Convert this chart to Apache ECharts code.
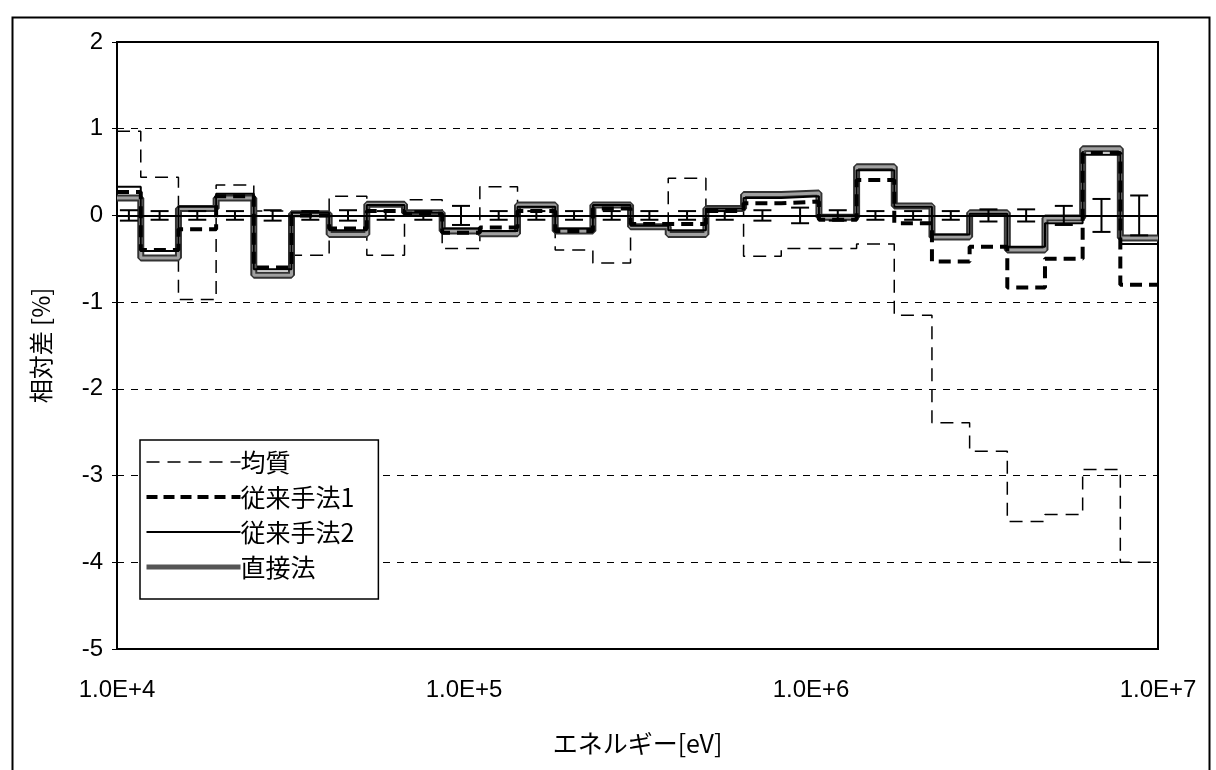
<!DOCTYPE html>
<html>
<head>
<meta charset="utf-8">
<script src="https://cdn.jsdelivr.net/npm/echarts@6/dist/echarts.min.js"></script>
<style>
html,body{margin:0;padding:0;background:#fff;}
#chart{width:1216px;height:770px;}
</style>
</head>
<body>
<div id="chart"></div>
<script>
// Energy group boundaries (eV), ascending; the first bin is clipped at the axis minimum
const edges = [1.0e4, 1.1709e4, 1.5034e4, 1.9305e4, 2.4788e4, 3.1828e4, 4.0868e4, 5.2475e4,
  6.7379e4, 8.6517e4, 1.1109e5, 1.4264e5, 1.8316e5, 2.3518e5, 3.0197e5, 3.8774e5, 4.9787e5,
  6.3928e5, 8.2085e5, 1.0540e6, 1.3534e6, 1.7377e6, 2.2313e6, 2.8650e6, 3.6788e6, 4.7237e6,
  6.0653e6, 7.7880e6, 1.0e7];

const seriesNames = ['均質', '従来手法1', '従来手法2', '直接法'];

const homogeneous = [0.97, 0.44, -0.97, 0.35, 0.05, -0.46, 0.22, -0.46, 0.18, -0.38, 0.33, 0.1, -0.4, -0.55,
  -0.13, 0.43, 0.07, -0.47, -0.38, -0.38, -0.33, -1.15, -2.39, -2.72, -3.53, -3.45, -2.93, -4.0];
const conventional1 = [0.27, -0.4, -0.16, 0.22, -0.6, 0.0, -0.15, 0.05, 0.02, -0.2, -0.14, 0.05, -0.18, 0.08,
  -0.1, -0.1, 0.05, 0.14, 0.16, -0.05, 0.41, -0.09, -0.53, -0.36, -0.83, -0.5, 0.72, -0.8];
const conventional2 = [0.33, -0.41, 0.1, 0.25, -0.62, 0.03, -0.17, 0.12, 0.03, -0.15, -0.18, 0.1, -0.15, 0.12,
  -0.12, -0.17, 0.08, 0.2, 0.22, 0.0, 0.52, 0.1, -0.22, 0.02, -0.36, -0.09, 0.7, -0.33];
const direct = [0.2, -0.49, 0.08, 0.2, -0.69, 0.02, -0.22, 0.13, 0.03, -0.18, -0.21, 0.12, -0.18, 0.12,
  -0.13, -0.22, 0.08, 0.24, 0.26, -0.02, 0.56, 0.11, -0.25, 0.03, -0.4, -0.03, 0.77, -0.26];
// statistical error half-widths (%), drawn around zero
const errHalf = [0.06, 0.05, 0.05, 0.05, 0.06, 0.05, 0.06, 0.05, 0.05, 0.11, 0.05, 0.05, 0.05, 0.05,
  0.05, 0.05, 0.05, 0.06, 0.09, 0.06, 0.05, 0.05, 0.05, 0.07, 0.07, 0.11, 0.19, 0.23];

const xTickLabels = {4: '1.0E+4', 5: '1.0E+5', 6: '1.0E+6', 7: '1.0E+7'};

function stepData(vals) {
  const d = vals.map((v, i) => [edges[i], v]);
  d.push([edges[edges.length - 1], vals[vals.length - 1]]);
  return d;
}
const errData = errHalf.map((e, i) => [Math.sqrt(edges[i] * edges[i + 1]), e]);

const numFont = "'Liberation Sans', Arial, sans-serif";
const jpFont = "'Noto Sans CJK JP', sans-serif";

const styles = {
  '均質': {color: '#000', width: 1.5, type: [13, 8]},
  '従来手法1': {color: '#000', width: 4, type: [12, 7]},
  '従来手法2': {color: '#000', width: 2, type: 'solid'},
  '直接法': {color: '#333', width: 7, type: 'solid'}
};
const legendLine = {
  '均質': {color: '#000', width: 1.5, type: [13, 8]},
  '従来手法1': {color: '#000', width: 4, type: [11, 6]},
  '従来手法2': {color: '#000', width: 2, type: 'solid'},
  '直接法': {color: '#555', width: 5, type: 'solid'}
};

const chart = echarts.init(document.getElementById('chart'), null, {renderer: 'canvas'});
chart.setOption({
  animation: false,
  backgroundColor: '#fff',
  graphic: [{
    type: 'rect', left: 10, top: 15, shape: {width: 1197, height: 800},
    style: {fill: 'none', stroke: '#000', lineWidth: 2}, silent: true
  }],
  grid: {left: 117, top: 42, width: 1041, height: 607, show: true, borderColor: '#000', borderWidth: 2, backgroundColor: 'transparent'},
  legend: {
    orient: 'vertical', left: 140, top: 440,
    data: seriesNames.map(n => ({name: n, lineStyle: legendLine[n], itemStyle: {color: 'transparent', borderWidth: 0, opacity: 0}})),
    itemWidth: 94, itemHeight: 14, itemGap: 9,
    backgroundColor: '#fff',
    borderColor: '#000', borderWidth: 1.5,
    padding: [9, 24, 19, 4],
    itemStyle: {color: 'transparent', borderWidth: 0, opacity: 0},
    textStyle: {fontFamily: jpFont, fontSize: 25, color: '#000', lineHeight: 26, padding: [0, 0, 0, -5]}
  },
  xAxis: {
    type: 'log', logBase: 10, min: 1e4, max: 1e7,
    axisLine: {show: false, onZero: false},
    axisTick: {show: false},
    splitLine: {show: false},
    minorTick: {show: false},
    axisLabel: {
      margin: 29, fontFamily: numFont, fontSize: 24, color: '#000',
      formatter: function (v) { const k = Math.round(Math.log10(v)); return xTickLabels[k] || ''; }
    },
    name: 'エネルギー[eV]', nameLocation: 'middle', nameGap: 82,
    nameTextStyle: {fontFamily: jpFont, fontSize: 25, color: '#000'}
  },
  yAxis: {
    type: 'value', min: -5, max: 2, interval: 1,
    axisLine: {show: false},
    axisTick: {show: true, length: 5, lineStyle: {color: '#000'}},
    axisLabel: {margin: 14, fontFamily: numFont, fontSize: 24, color: '#000'},
    splitLine: {show: true, lineStyle: {color: '#000', width: 1, type: [7, 7]}},
    name: '相対差 [%]', nameLocation: 'middle', nameGap: 64, nameRotate: 90,
    nameTextStyle: {fontFamily: jpFont, fontSize: 24, color: '#000'}
  },
  series: [
    {
      name: '均質', type: 'line', step: 'end', symbol: 'none', z: 2,
      data: stepData(homogeneous),
      lineStyle: styles['均質'],
      itemStyle: {color: '#000'},
      markLine: {
        silent: true, symbol: 'none', label: {show: false},
        lineStyle: {color: '#000', width: 2, type: 'solid'},
        data: [{yAxis: 0}]
      }
    },
    {
      name: '直接法', type: 'line', step: 'end', symbol: 'none', z: 3,
      data: stepData(direct),
      lineStyle: styles['直接法'],
      itemStyle: {color: '#333'}
    },
    {
      name: '直接法_inner', type: 'line', step: 'end', symbol: 'none', z: 4,
      data: stepData(direct),
      lineStyle: {color: '#a0a0a0', width: 3, type: 'solid'},
      itemStyle: {color: '#a0a0a0'}
    },
    {
      name: '従来手法1', type: 'line', step: 'end', symbol: 'none', z: 5,
      data: stepData(conventional1),
      lineStyle: styles['従来手法1'],
      itemStyle: {color: '#000'}
    },
    {
      name: '従来手法2', type: 'line', step: 'end', symbol: 'none', z: 6,
      data: stepData(conventional2),
      lineStyle: styles['従来手法2'],
      itemStyle: {color: '#000'}
    },
    {
      name: 'error', type: 'custom', z: 7,
      data: errData,
      renderItem: function (params, api) {
        const x = api.value(0), e = api.value(1);
        const top = api.coord([x, e]);
        const bot = api.coord([x, -e]);
        const hw = 9;
        const st = {stroke: '#000', lineWidth: 2};
        return {
          type: 'group',
          children: [
            {type: 'line', shape: {x1: top[0], y1: top[1], x2: bot[0], y2: bot[1]}, style: st},
            {type: 'line', shape: {x1: top[0] - hw, y1: top[1], x2: top[0] + hw, y2: top[1]}, style: st},
            {type: 'line', shape: {x1: bot[0] - hw, y1: bot[1], x2: bot[0] + hw, y2: bot[1]}, style: st}
          ]
        };
      }
    }
  ]
});
</script>
</body>
</html>
